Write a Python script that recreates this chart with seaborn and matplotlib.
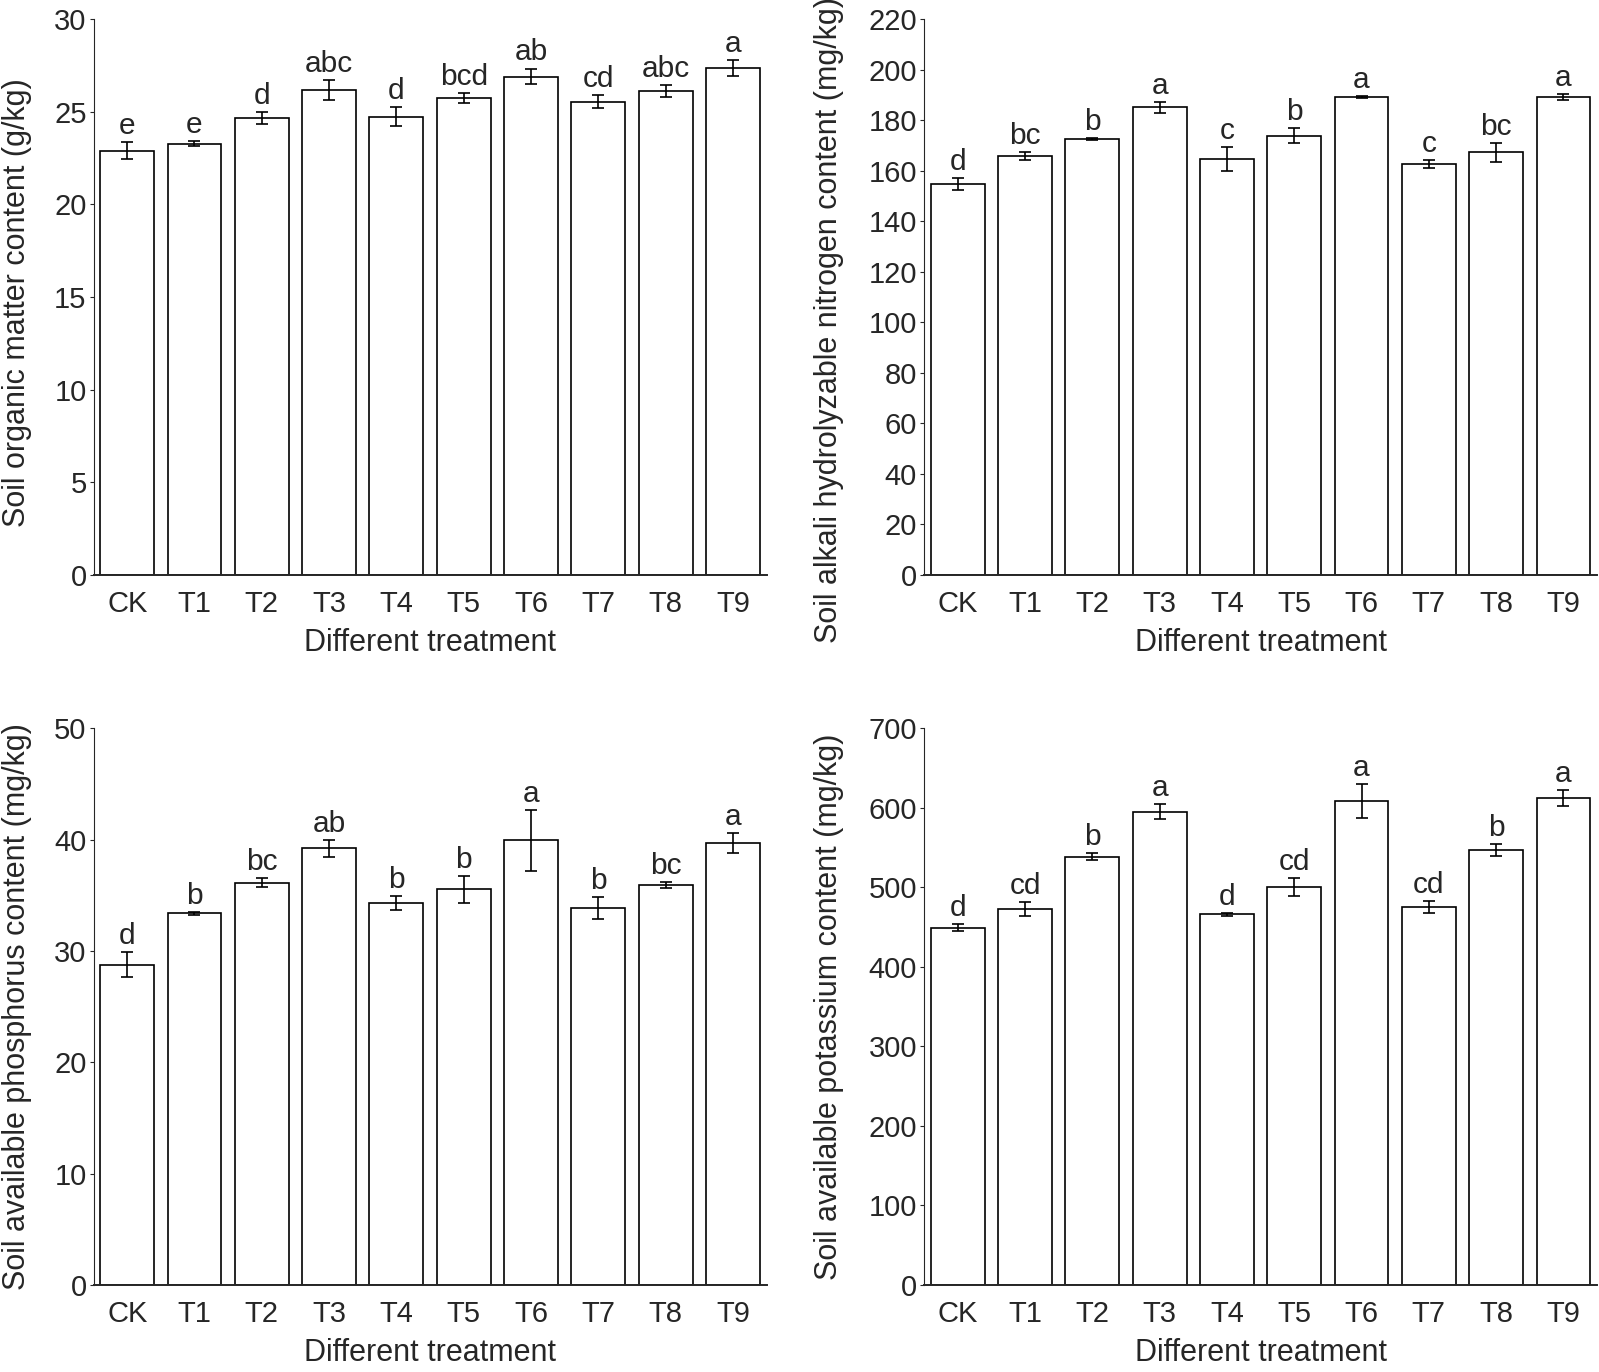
import numpy as np
import pandas as pd
import seaborn as sns
import matplotlib
matplotlib.use("Agg")
import matplotlib.pyplot as plt

# treatments
treatments = ["CK", "T1", "T2", "T3", "T4", "T5", "T6", "T7", "T8", "T9"]

# soil organic matter (g/kg)
om_mean = [22.9, 23.28, 24.66, 26.17, 24.73, 25.74, 26.9, 25.54, 26.1, 27.35]
om_err = [0.47, 0.15, 0.32, 0.55, 0.5, 0.29, 0.43, 0.34, 0.32, 0.44]
om_letters = ["e", "e", "d", "abc", "d", "bcd", "ab", "cd", "abc", "a"]

# alkali hydrolyzable nitrogen (mg/kg)
an_mean = [154.7, 165.8, 172.4, 185.1, 164.5, 173.9, 189.1, 162.7, 167.3, 189.1]
an_err = [2.4, 1.7, 0.4, 2.25, 4.7, 3.0, 0.4, 1.7, 3.7, 1.26]
an_letters = ["d", "bc", "b", "a", "c", "b", "a", "c", "bc", "a"]

# available phosphorus (mg/kg)
ap_mean = [28.75, 33.37, 36.11, 39.22, 34.32, 35.52, 39.94, 33.85, 35.94, 39.7]
ap_err = [1.12, 0.15, 0.4, 0.78, 0.63, 1.22, 2.73, 1.0, 0.25, 0.9]
ap_letters = ["d", "b", "bc", "ab", "b", "b", "a", "b", "bc", "a"]

# available potassium (mg/kg)
ak_mean = [449.2, 472.5, 538.5, 595.3, 466.2, 500.3, 608.3, 475.0, 546.5, 612.1]
ak_err = [4.2, 8.8, 4.2, 10, 2, 11, 21, 7.8, 7.4, 10]
ak_letters = ["d", "cd", "b", "a", "d", "cd", "a", "cd", "b", "a"]

sns.set_style("ticks")
plt.rcParams["font.family"] = ["Liberation Sans", "DejaVu Sans"]

fig = plt.figure(figsize=(15.99, 13.72), dpi=100)

panels = [
    ([0.0585, 0.5809, 0.4209, 0.4052], om_mean, om_err, om_letters, 30, 5,
     "Soil organic matter content (g/kg)", (-0.092, 0.49)),
    ([0.5779, 0.5809, 0.4209, 0.4052], an_mean, an_err, an_letters, 220, 20,
     "Soil alkali hydrolyzable nitrogen content (mg/kg)", (-0.119, 0.458)),
    ([0.0585, 0.0634, 0.4209, 0.4058], ap_mean, ap_err, ap_letters, 50, 10,
     "Soil available phosphorus content (mg/kg)", (-0.092, 0.5)),
    ([0.5779, 0.0634, 0.4209, 0.4058], ak_mean, ak_err, ak_letters, 700, 100,
     "Soil available potassium content (mg/kg)", (-0.119, 0.5)),
]

for rect, mean, err, letters, ymax, step, ylab, ylab_xy in panels:
    ax = fig.add_axes(rect)
    df = pd.DataFrame({"treatment": treatments, "value": mean})
    sns.barplot(data=df, x="treatment", y="value", color="white", saturation=1,
                edgecolor="black", linewidth=1.2, width=0.8, errorbar=None, ax=ax)
    ax.errorbar(np.arange(len(treatments)), mean, yerr=err, fmt="none",
                ecolor="black", elinewidth=1.2, capsize=4.6, capthick=1.2, zorder=5)
    for i in range(len(treatments)):
        ax.annotate(letters[i], (i, mean[i] + err[i]), xytext=(0, 5.8),
                    textcoords="offset points", ha="center", va="baseline",
                    fontsize=21.5)

    ax.set_xlim(-0.5, len(treatments) - 0.5)
    ax.set_ylim(0, ymax)
    ax.set_yticks(np.arange(0, ymax + step / 2, step))
    sns.despine(ax=ax)
    ax.spines["left"].set_linewidth(0.8)
    ax.spines["bottom"].set_linewidth(1.4)
    ax.tick_params(axis="y", length=3, width=0.8, labelsize=21, pad=2)
    ax.tick_params(axis="x", length=0, labelsize=21, pad=11)
    ax.set_xlabel("Different treatment", fontsize=22)
    ax.set_ylabel(ylab, fontsize=22)
    ax.xaxis.set_label_coords(0.5, -0.096)
    ax.yaxis.set_label_coords(*ylab_xy)

fig.savefig("out.png", dpi=100)
